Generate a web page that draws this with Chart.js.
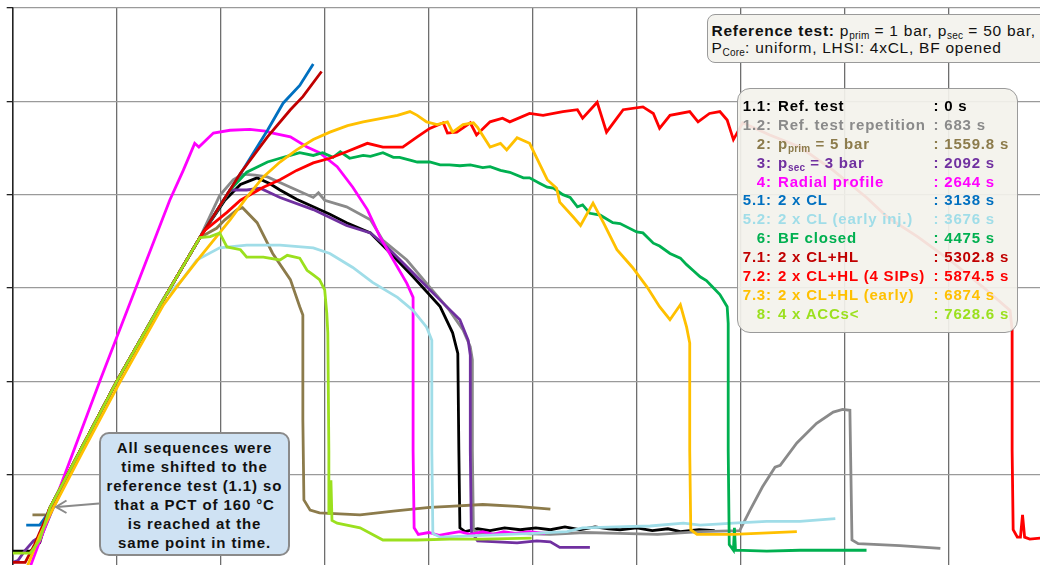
<!DOCTYPE html>
<html>
<head>
<meta charset="utf-8">
<script src="https://cdn.jsdelivr.net/npm/chart.js@4.4.1/dist/chart.umd.min.js"></script>
<style>
  html, body { margin: 0; padding: 0; background: #fff; }
  #wrap { position: relative; width: 1040px; height: 565px; overflow: hidden; font-family: "Liberation Sans", Arial, sans-serif; }
  #chart { position: absolute; left: 0; top: 0; }
  #refBox { position: absolute; left: 707px; top: 14px; width: 380px; height: 49px; box-sizing: border-box;
            background: #f4f3ee; border: 1.5px solid #9a9a9a; border-radius: 8px; padding: 6.5px 0 0 3.5px;
            font-size: 15.5px; line-height: 17.6px; letter-spacing: 0.75px; color: #111; white-space: nowrap; }
  #legendBox { position: absolute; left: 737px; top: 88px; width: 281px; height: 245px; box-sizing: border-box;
               background: rgba(243, 242, 236, 0.92); border: 1.5px solid #9a9a9a; border-radius: 13px; padding-top: 8px;
               font-weight: bold; font-size: 15px; line-height: 18.9px; letter-spacing: 0.8px; white-space: nowrap; }
  .row { position: relative; height: 18.9px; }
  .num { position: absolute; left: 0; width: 33.8px; text-align: right; }
  .lab { position: absolute; left: 40px; }
  .val { position: absolute; left: 195.5px; }
  sub { font-size: 10px; vertical-align: -3px; line-height: 0; letter-spacing: 0.2px; }
  #note { position: absolute; left: 99px; top: 432px; width: 191px; height: 124px; box-sizing: border-box;
          background: #cfe2f3; border: 2px solid #8a8a8a; border-radius: 10px; padding-top: 5px;
          text-align: center; font-weight: bold; font-size: 15px; line-height: 18.9px; letter-spacing: 0.9px; color: #111; }
  #arrow { position: absolute; left: 0; top: 0; pointer-events: none; }
</style>
</head>
<body>
<div id="wrap">
  <canvas id="chart" width="1040" height="565"></canvas>
  <svg id="arrow" width="1040" height="565">
    <line x1="99" y1="503.5" x2="57" y2="507" stroke="#8a8a8a" stroke-width="2"/>
    <polyline points="66.5,500.5 56,507 66.5,513" fill="none" stroke="#8a8a8a" stroke-width="2"/>
  </svg>
  <div id="refBox"><b>Reference test:</b> p<sub>prim</sub> = 1 bar, p<sub>sec</sub> = 50 bar,<br>P<sub>Core</sub>: uniform, LHSI: 4xCL, BF opened</div>
  <div id="legendBox"></div>
  <div id="note">All sequences were<br>time shifted to the<br>reference test (1.1) so<br>that a PCT of 160 °C<br>is reached at the<br>same point in time.</div>
</div>
<script>
// time (s, shifted) and peak cladding temperature (°C) per sequence
const refTestT = [0, 17, 26, 36, 65, 100, 142, 180, 204, 219, 235, 247, 257, 273, 289, 305, 321, 344, 360, 385, 411, 423, 428, 429, 430, 435, 447, 459, 473, 488, 503, 517, 531, 545, 560, 573, 584, 600, 615, 630, 642, 660, 675];
const refTestPct = [118, 118, 127, 165, 226, 300, 382, 454, 494, 511, 518, 512, 505, 495, 487, 479, 470, 459, 441, 412, 380, 352, 330, 226, 143, 139, 142, 140, 143, 141, 143, 141, 144, 141, 144, 142, 141, 143, 140, 142, 139, 141, 140];

const refRepT = [31, 36, 65, 100, 142, 180, 199, 212, 221, 233, 245, 267, 289, 294, 300, 321, 344, 356, 379, 401, 420, 433, 440, 442, 442, 443, 449, 480, 517, 550, 584, 620, 661, 699, 709, 721, 733, 738, 754, 773, 789, 798, 805, 807, 813, 853, 892];
const refRepPct = [149, 165, 226, 300, 382, 454, 499, 516, 522, 521, 519, 508, 497, 502, 494, 487, 473, 451, 430, 401, 376, 355, 337, 323, 226, 141, 136, 137, 136, 138, 137, 136, 139, 140, 162, 187, 208, 210, 234, 255, 267, 270, 269, 130, 126, 124, 121];

const pPrimT = [19, 34, 38, 65, 100, 142, 180, 196, 204, 216, 221, 235, 250, 267, 276, 279, 279, 280, 286, 295, 334, 366, 401, 420, 452, 485, 517];
const pPrimPct = [157, 157, 164, 226, 300, 382, 454, 464, 473, 484, 486, 470, 437, 409, 380, 371, 259, 173, 162, 159, 157, 161, 165, 166, 168, 166, 163];

const pSecT = [0, 5, 12, 20, 28, 38, 65, 100, 142, 180, 209, 225, 238, 257, 289, 321, 344, 360, 385, 411, 430, 438, 440, 440, 441, 447, 485, 504, 517, 526, 555];
const pSecPct = [106, 108, 119, 129, 135, 162, 226, 300, 382, 454, 505, 505, 507, 497, 484, 467, 459, 444, 416, 387, 366, 344, 328, 226, 139, 129, 127, 129, 128, 122, 122];

const radialT = [12, 84, 151, 164, 175, 179, 193, 209, 228, 243, 250, 267, 283, 295, 312, 327, 341, 353, 366, 379, 385, 385, 386, 390, 400, 410, 420, 430, 440, 452, 462, 472, 483, 497, 512];
const radialPct = [87, 301, 494, 526, 555, 551, 566, 569, 570, 568, 566, 562, 551, 545, 530, 508, 484, 455, 430, 405, 390, 226, 143, 136, 138, 135, 137, 139, 136, 139, 136, 139, 137, 139, 137];

const cl2T = [13, 26, 33, 36, 65, 100, 142, 180, 221, 245, 260, 276, 289];
const cl2Pct = [146, 146, 157, 165, 226, 300, 382, 454, 526, 569, 598, 617, 640];

const cl2EarlyT = [34, 65, 100, 146, 161, 177, 199, 225, 257, 289, 305, 327, 346, 370, 385, 398, 403, 403, 404, 411, 452, 500, 533, 548, 581, 613, 645, 661, 693, 725, 757, 791];
const cl2EarlyPct = [160, 226, 300, 391, 406, 430, 443, 446, 446, 443, 437, 422, 406, 390, 376, 358, 344, 226, 137, 133, 135, 137, 139, 143, 144, 145, 148, 146, 148, 150, 150, 153];

const bfClosedT = [34, 65, 100, 142, 180, 209, 225, 245, 257, 267, 276, 289, 298, 308, 315, 324, 337, 344, 356, 366, 372, 382, 389, 401, 411, 420, 430, 440, 452, 459, 469, 478, 491, 497, 507, 514, 520, 529, 536, 543, 548, 555, 565, 577, 584, 600, 606, 616, 622, 632, 642, 648, 654, 661, 667, 673, 680, 687, 688, 688, 689, 693, 694, 695, 725, 757, 821];
const bfClosedPct = [160, 226, 300, 382, 454, 505, 524, 535, 539, 542, 545, 542, 545, 540, 546, 539, 542, 541, 545, 540, 540, 537, 535, 535, 532, 532, 531, 532, 529, 530, 526, 524, 518, 518, 512, 508, 507, 500, 497, 487, 489, 480, 478, 470, 469, 460, 459, 448, 445, 437, 432, 425, 419, 412, 408, 401, 393, 380, 362, 226, 125, 119, 143, 119, 118, 119, 119];

const clHlT = [0, 12, 21, 31, 36, 65, 100, 142, 180, 219, 245, 267, 279, 297];
const clHlPct = [106, 106, 125, 151, 165, 226, 300, 382, 454, 523, 562, 591, 605, 632];

const clHlSipT = [34, 65, 100, 142, 180, 185, 206, 219, 241, 257, 273, 289, 305, 321, 341, 356, 375, 389, 401, 414, 418, 427, 440, 446, 459, 471, 478, 497, 510, 529, 543, 548, 562, 571, 581, 587, 606, 616, 622, 632, 651, 659, 670, 680, 687, 693, 702, 728, 757, 789, 821, 841, 870, 901, 933, 959, 961, 961, 962, 966, 969, 971, 973, 978, 988];
const clHlSipPct = [160, 226, 300, 382, 454, 462, 481, 494, 508, 516, 526, 534, 539, 546, 555, 551, 551, 562, 571, 577, 566, 567, 577, 564, 578, 582, 578, 587, 585, 589, 591, 582, 599, 567, 582, 591, 594, 587, 571, 585, 589, 578, 587, 589, 580, 559, 577, 564, 551, 526, 497, 476, 455, 430, 401, 376, 355, 226, 141, 133, 133, 157, 133, 131, 132];

const clHlEarlyT = [12, 26, 38, 67, 103, 145, 161, 180, 196, 209, 225, 241, 257, 273, 289, 305, 322, 337, 356, 370, 382, 389, 398, 408, 418, 423, 433, 443, 447, 459, 469, 475, 485, 497, 514, 523, 526, 539, 546, 558, 568, 581, 596, 610, 622, 632, 642, 648, 651, 651, 652, 658, 693, 754];
const clHlEarlyPct = [96, 135, 162, 224, 299, 382, 406, 433, 455, 473, 497, 519, 535, 548, 559, 567, 574, 578, 582, 585, 589, 585, 578, 575, 578, 567, 575, 577, 572, 551, 555, 548, 561, 555, 516, 507, 492, 476, 467, 491, 470, 441, 422, 401, 380, 366, 382, 358, 341, 226, 141, 136, 136, 139];

const accT = [0, 17, 26, 36, 65, 100, 142, 180, 190, 199, 206, 219, 225, 241, 257, 264, 276, 283, 289, 295, 300, 302, 303, 304, 304, 306, 307, 312, 334, 356, 389, 420, 452, 499];
const accPct = [116, 116, 130, 165, 226, 300, 382, 454, 455, 459, 444, 441, 433, 433, 430, 435, 432, 419, 414, 409, 398, 373, 352, 226, 157, 194, 151, 148, 143, 130, 130, 131, 131, 132];

// grid positions
const timeGrid = [0, 100, 200, 300, 400, 500, 600, 700, 800, 900];
const pctGrid = [200, 300, 400, 500, 600, 700];

const legendNums = ['1.1:', '1.2:', '2:', '3:', '4:', '5.1:', '5.2:', '6:', '7.1:', '7.2:', '7.3:', '8:'];
const legendLabels = ['Ref. test', 'Ref. test repetition', 'p<sub>prim</sub> = 5 bar', 'p<sub>sec</sub> = 3 bar',
  'Radial profile', '2 x CL', '2 x CL (early inj.)', 'BF closed', '2 x CL+HL', '2 x CL+HL (4 SIPs)',
  '2 x CL+HL (early)', '4 x ACCs&lt;'];
const shiftTimes = ['0 s', '683 s', '1559.8 s', '2092 s', '2644 s', '3138 s', '3676 s', '4475 s', '5302.8 s', '5874.5 s', '6874 s', '7628.6 s'];

const seriesT = [refTestT, refRepT, pPrimT, pSecT, radialT, cl2T, cl2EarlyT, bfClosedT, clHlT, clHlSipT, clHlEarlyT, accT];
const seriesPct = [refTestPct, refRepPct, pPrimPct, pSecPct, radialPct, cl2Pct, cl2EarlyPct, bfClosedPct, clHlPct, clHlSipPct, clHlEarlyPct, accPct];

const lineColors = ['#000000', '#8a8a8a', '#8c7b4b', '#7030a0', '#ff00ff', '#0070c0', '#a0dde8', '#00b050', '#c00000', '#ff0000', '#ffc000', '#9be01e'];

// legend box (html, sits over the canvas)
const legendBox = document.getElementById('legendBox');
legendNums.forEach((n, i) => {
  const row = document.createElement('div');
  row.className = 'row';
  row.style.color = lineColors[i];
  row.innerHTML = `<span class="num">${n}</span><span class="lab">${legendLabels[i]}</span><span class="val">: ${shiftTimes[i]}</span>`;
  legendBox.appendChild(row);
});

const datasets = seriesT.map((ts, i) => ({
  label: legendNums[i] + ' ' + legendLabels[i].replace(/<[^>]+>/g, ''),
  data: ts.map((t, j) => ({ x: t, y: seriesPct[i][j] })),
  borderColor: lineColors[i],
  backgroundColor: lineColors[i],
  borderWidth: 2.8,
  pointRadius: 0,
  tension: 0,
  fill: false,
  order: seriesT.length - i   // later sequences on top
}));

new Chart(document.getElementById('chart').getContext('2d'), {
  type: 'line',
  data: { datasets },
  options: {
    responsive: false,
    animation: false,
    layout: { padding: { left: 6.7, top: 8, right: 0, bottom: 0 } },
    plugins: { legend: { display: false }, tooltip: { enabled: false } },
    scales: {
      x: {
        type: 'linear',
        min: 0,
        max: 987.8,
        ticks: { display: false },
        grid: { color: '#6e6e6e', lineWidth: 1.3, drawTicks: false },
        border: { display: false },
        afterBuildTicks: axis => { axis.ticks = timeGrid.map(v => ({ value: v })); }
      },
      y: {
        type: 'linear',
        min: 103.2,
        max: 700,
        ticks: { display: false },
        grid: { color: '#9a9a9a', lineWidth: 1.3, tickColor: '#222', tickLength: 6 },
        border: { display: true, color: '#222', width: 1.5 },
        afterBuildTicks: axis => { axis.ticks = pctGrid.map(v => ({ value: v })); }
      }
    }
  }
});
</script>
</body>
</html>
